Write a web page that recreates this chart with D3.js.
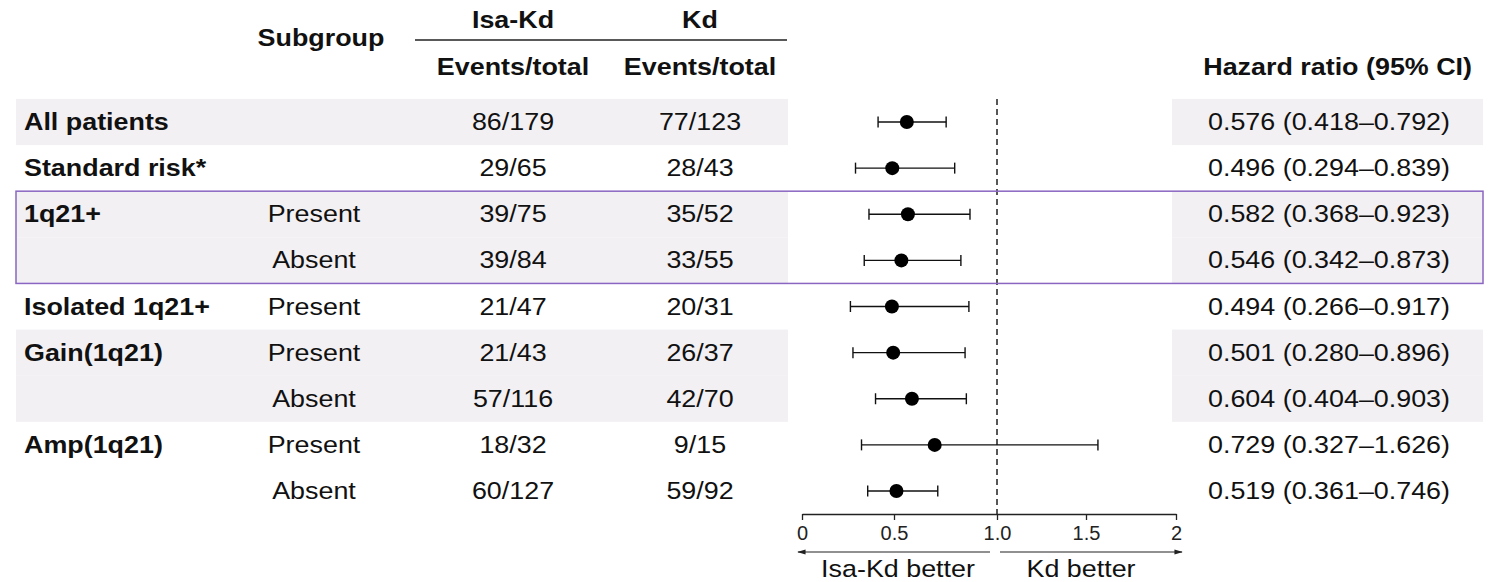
<!DOCTYPE html>
<html>
<head>
<meta charset="utf-8">
<script src="https://cdn.jsdelivr.net/npm/d3@7"></script>
<style>
html,body{margin:0;padding:0;background:#fff;}
svg{display:block;font-family:"Liberation Sans",Arial,sans-serif;}
</style>
</head>
<body>
<svg id="chart" width="1496" height="582"></svg>
<script>
// ---- data ----
const groupLabels = ["All patients","Standard risk*","1q21+","","Isolated 1q21+","Gain(1q21)","","Amp(1q21)",""];
const subgroups   = ["","","Present","Absent","Present","Present","Absent","Present","Absent"];
const isaKdEvents = ["86/179","29/65","39/75","39/84","21/47","21/43","57/116","18/32","60/127"];
const kdEvents    = ["77/123","28/43","35/52","33/55","20/31","26/37","42/70","9/15","59/92"];
const hrValues    = [0.576,0.496,0.582,0.546,0.494,0.501,0.604,0.729,0.519];
const hrLower     = [0.418,0.294,0.368,0.342,0.266,0.280,0.404,0.327,0.361];
const hrUpper     = [0.792,0.839,0.923,0.873,0.917,0.896,0.903,1.626,0.746];
const shadedRows  = [true,false,true,true,false,true,true,false,false];
const highlightRows = [2,3];
const tickValues  = [0,0.5,1,1.5,2];
const tickLabels  = ["0","0.5","1.0","1.5","2"];
const headers = {subgroup:"Subgroup", arm1:"Isa-Kd", arm2:"Kd", events:"Events/total", hr:"Hazard ratio (95% CI)"};
const directionLabels = ["Isa-Kd better","Kd better"];

// ---- layout ----
const svg = d3.select("#chart");
const SX = 1.12;          // horizontal stretch of text in the reference
const FS = 24;
const fmt = d3.format(".3f");

const rowY = d3.scaleLinear().domain([0, 8]).range([122, 491]);
const rowH = (rowY(8) - rowY(0)) / 8;
const x = d3.scaleLinear().domain([0, 2]).range([802, 1166]);
const axisX = d3.scaleLinear().domain(tickValues).range([802, 894, 997, 1086, 1176]);

const colLabel = 24, colSub = 314, colIsa = 513, colKd = 700, colHR = 1329;
const leftPanel = [16, 788], rightPanel = [1172, 1483];
const shade = "#f2f0f3";

function txt(g, px, py, s, anchor, bold, size, color) {
  return g.append("text")
    .attr("transform", `translate(${px},${py}) scale(${SX},1)`)
    .attr("text-anchor", anchor || "start")
    .attr("font-size", size || FS)
    .attr("font-weight", bold ? "bold" : "normal")
    .attr("fill", color || "#111")
    .text(s);
}

// shading
const bg = svg.append("g");
const idx = d3.range(hrValues.length);
idx.filter(i => shadedRows[i]).forEach(i => {
  [leftPanel, rightPanel].forEach(p => {
    bg.append("rect")
      .attr("x", p[0]).attr("width", p[1] - p[0])
      .attr("y", rowY(i) - rowH / 2).attr("height", rowH)
      .attr("fill", shade);
  });
});

// headers
const hd = svg.append("g");
txt(hd, 321, 46, headers.subgroup, "middle", true);
txt(hd, colIsa, 28, headers.arm1, "middle", true);
txt(hd, colKd, 28, headers.arm2, "middle", true);
hd.append("line").attr("x1", 415).attr("x2", 787).attr("y1", 40).attr("y2", 40)
  .attr("stroke", "#222").attr("stroke-width", 1.3);
txt(hd, colIsa, 75, headers.events, "middle", true);
txt(hd, colKd, 75, headers.events, "middle", true);
txt(hd, 1472, 75, headers.hr, "end", true);

// table text
const tb = svg.append("g");
idx.forEach(i => {
  const yb = rowY(i) + 8;
  if (groupLabels[i]) txt(tb, colLabel, yb, groupLabels[i], "start", true);
  if (subgroups[i]) txt(tb, colSub, yb, subgroups[i], "middle", false);
  txt(tb, colIsa, yb, isaKdEvents[i], "middle", false);
  txt(tb, colKd, yb, kdEvents[i], "middle", false);
  txt(tb, colHR, yb, `${fmt(hrValues[i])} (${fmt(hrLower[i])}\u2013${fmt(hrUpper[i])})`, "middle", false);
});

// reference line
const axisY = 514;
svg.append("line")
  .attr("x1", axisX(1)).attr("x2", axisX(1))
  .attr("y1", rowY(0) - rowH / 2).attr("y2", axisY)
  .attr("stroke", "#111").attr("stroke-width", 1.4)
  .attr("stroke-dasharray", "6,4");

// highlight box
svg.append("rect")
  .attr("x", leftPanel[0]).attr("width", rightPanel[1] - leftPanel[0])
  .attr("y", rowY(d3.min(highlightRows)) - rowH / 2)
  .attr("height", rowH * highlightRows.length)
  .attr("fill", "none").attr("stroke", "#8b65c2").attr("stroke-width", 1.5);

// forest marks
const fm = svg.append("g").attr("stroke", "#111").attr("stroke-width", 1.4);
idx.forEach(i => {
  const y = rowY(i);
  fm.append("line").attr("x1", x(hrLower[i])).attr("x2", x(hrUpper[i])).attr("y1", y).attr("y2", y);
  [hrLower[i], hrUpper[i]].forEach(v => {
    fm.append("line").attr("x1", x(v)).attr("x2", x(v)).attr("y1", y - 5.5).attr("y2", y + 5.5);
  });
  fm.append("circle").attr("cx", x(hrValues[i])).attr("cy", y).attr("r", 7)
    .attr("fill", "#000").attr("stroke", "none");
});

// axis
const ax = svg.append("g").attr("transform", `translate(0,${axisY})`)
  .call(d3.axisBottom(axisX).tickValues(tickValues)
    .tickFormat((d, i) => tickLabels[i]).tickSize(6).tickSizeOuter(0).tickPadding(6));
ax.select(".domain").attr("stroke", "#222").attr("stroke-width", 1.3);
ax.selectAll(".tick line").attr("stroke", "#222").attr("stroke-width", 1.3);
ax.selectAll(".tick text").attr("font-size", 20).attr("fill", "#222")
  .attr("font-family", "'Liberation Sans',Arial,sans-serif");

// direction arrows
const defs = svg.append("defs");
defs.append("marker").attr("id", "ah").attr("viewBox", "0 0 10 10")
  .attr("refX", 9).attr("refY", 5).attr("markerWidth", 7).attr("markerHeight", 7)
  .attr("orient", "auto-start-reverse")
  .append("path").attr("d", "M0,2 L10,5 L0,8 Z").attr("fill", "#222");
const arrY = 552;
svg.append("line").attr("x1", axisX(1) - 7).attr("x2", axisX(0) - 4)
  .attr("y1", arrY).attr("y2", arrY).attr("stroke", "#222").attr("stroke-width", 1.2)
  .attr("marker-end", "url(#ah)");
svg.append("line").attr("x1", axisX(1) + 3).attr("x2", axisX(2) + 6)
  .attr("y1", arrY).attr("y2", arrY).attr("stroke", "#222").attr("stroke-width", 1.2)
  .attr("marker-end", "url(#ah)");
txt(svg, 898, 577, directionLabels[0], "middle", false);
txt(svg, 1081, 577, directionLabels[1], "middle", false);
</script>
</body>
</html>
